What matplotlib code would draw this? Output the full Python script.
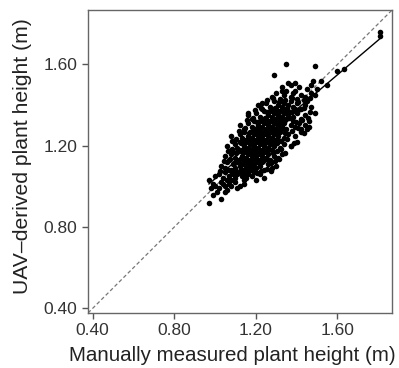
import numpy as np
import matplotlib
matplotlib.use("Agg")
import matplotlib.pyplot as plt

plt.rcParams['font.family'] = ['Liberation Sans', 'DejaVu Sans']

# manually measured height (x) and UAV-derived height (y)
manual_h = [
    0.97, 1.03, 0.99, 1.01, 1.05, 0.98,
    0.97, 1.00, 1.02, 1.04, 1.06, 1.08, 1.10, 1.12, 1.03, 1.07, 1.11, 0.99, 1.05, 1.14,
    1.00, 1.02, 1.04, 1.05, 1.07, 1.08, 1.09, 1.10, 1.12, 1.13, 1.15, 1.16, 1.18, 1.20, 1.22, 1.24, 1.06, 1.11, 1.14, 1.19,
    1.03, 1.05, 1.06, 1.08, 1.09, 1.10, 1.11, 1.12, 1.13, 1.14, 1.15, 1.16, 1.17, 1.18, 1.19, 1.20, 1.21, 1.22, 1.24, 1.26, 1.28, 1.30, 1.07, 1.13, 1.17, 1.23,
    1.05, 1.07, 1.08, 1.10, 1.11, 1.12, 1.13, 1.14, 1.15, 1.16, 1.17, 1.18, 1.19, 1.20, 1.21, 1.22, 1.23, 1.24, 1.25, 1.26, 1.27, 1.29, 1.31, 1.33, 1.09, 1.14, 1.18, 1.22, 1.26, 1.20,
    1.06, 1.08, 1.10, 1.11, 1.12, 1.13, 1.14, 1.15, 1.16, 1.17, 1.18, 1.19, 1.20, 1.21, 1.22, 1.23, 1.24, 1.25, 1.26, 1.27, 1.28, 1.29, 1.30, 1.32, 1.34, 1.37, 1.12, 1.16, 1.20, 1.24, 1.28, 1.18, 1.22, 1.26,
    1.08, 1.10, 1.12, 1.13, 1.14, 1.15, 1.16, 1.17, 1.18, 1.19, 1.20, 1.21, 1.22, 1.23, 1.24, 1.25, 1.26, 1.27, 1.28, 1.29, 1.30, 1.31, 1.32, 1.34, 1.36, 1.39, 1.42, 1.15, 1.19, 1.23, 1.27, 1.31, 1.21, 1.25,
    1.12, 1.14, 1.16, 1.18, 1.19, 1.20, 1.21, 1.22, 1.23, 1.24, 1.25, 1.26, 1.27, 1.28, 1.29, 1.30, 1.31, 1.32, 1.33, 1.34, 1.35, 1.37, 1.39, 1.41, 1.44, 1.46, 1.22, 1.26, 1.30, 1.34, 1.28, 1.38,
    1.16, 1.18, 1.20, 1.22, 1.24, 1.25, 1.26, 1.27, 1.28, 1.29, 1.30, 1.31, 1.32, 1.33, 1.34, 1.35, 1.36, 1.38, 1.40, 1.42, 1.44, 1.49, 1.28, 1.32, 1.36, 1.30, 1.34, 1.46,
    1.21, 1.23, 1.25, 1.27, 1.29, 1.30, 1.31, 1.32, 1.33, 1.34, 1.35, 1.36, 1.37, 1.38, 1.40, 1.42, 1.44, 1.47, 1.28, 1.33, 1.39, 1.45,
    1.28, 1.30, 1.32, 1.34, 1.35, 1.37, 1.38, 1.40, 1.42, 1.44, 1.47, 1.33, 1.39, 1.49,
    1.33, 1.36, 1.37, 1.39, 1.41, 1.45, 1.47, 1.48,
    1.29, 1.35, 1.49, 1.55, 1.60, 1.63, 1.81, 1.81, 1.52, 1.50, 1.23, 1.16, 1.45, 1.42, 1.40, 1.37,
    # in-between rows of the dense core
    1.025, 1.055, 1.085, 1.105, 1.125, 1.145, 1.165, 1.185, 1.205, 1.225, 1.255, 1.275,
    1.045, 1.075, 1.095, 1.115, 1.135, 1.155, 1.175, 1.195, 1.215, 1.235, 1.255, 1.275, 1.295, 1.315,
    1.065, 1.085, 1.105, 1.125, 1.145, 1.165, 1.185, 1.205, 1.225, 1.245, 1.265, 1.285, 1.305, 1.325, 1.345,
    1.085, 1.105, 1.125, 1.145, 1.165, 1.185, 1.205, 1.225, 1.245, 1.265, 1.285, 1.305, 1.325, 1.355, 1.385,
    1.115, 1.145, 1.165, 1.185, 1.205, 1.225, 1.245, 1.265, 1.285, 1.305, 1.325, 1.345, 1.375, 1.405, 1.435,
    1.155, 1.185, 1.205, 1.225, 1.245, 1.265, 1.285, 1.305, 1.325, 1.345, 1.365, 1.395, 1.425, 1.455,
    1.195, 1.225, 1.255, 1.275, 1.295, 1.315, 1.335, 1.355, 1.375, 1.405, 1.435, 1.465,
    1.255, 1.285, 1.315, 1.345, 1.375, 1.405, 1.435, 1.465,
]
uav_h = [
    0.92, 0.94, 0.96, 0.97, 0.97, 0.99,
    1.03, 1.00, 0.99, 1.01, 0.98, 1.00, 1.02, 1.00, 1.02, 1.01, 0.99, 1.01, 1.00, 1.01,
    1.05, 1.06, 1.04, 1.07, 1.05, 1.03, 1.06, 1.04, 1.07, 1.05, 1.04, 1.06, 1.05, 1.03, 1.06, 1.04, 1.03, 1.06, 1.03, 1.07,
    1.10, 1.09, 1.12, 1.08, 1.11, 1.09, 1.12, 1.10, 1.08, 1.11, 1.09, 1.12, 1.10, 1.08, 1.11, 1.09, 1.12, 1.10, 1.08, 1.11, 1.09, 1.10, 1.08, 1.12, 1.08, 1.12,
    1.15, 1.13, 1.16, 1.14, 1.17, 1.13, 1.15, 1.17, 1.14, 1.16, 1.13, 1.15, 1.17, 1.14, 1.16, 1.13, 1.15, 1.17, 1.14, 1.16, 1.13, 1.15, 1.14, 1.16, 1.17, 1.13, 1.17, 1.17, 1.13, 1.15,
    1.20, 1.18, 1.21, 1.19, 1.22, 1.18, 1.20, 1.22, 1.19, 1.21, 1.18, 1.20, 1.22, 1.19, 1.21, 1.18, 1.20, 1.22, 1.19, 1.21, 1.18, 1.20, 1.22, 1.19, 1.21, 1.20, 1.18, 1.18, 1.18, 1.22, 1.22, 1.22, 1.22, 1.18,
    1.25, 1.23, 1.26, 1.24, 1.27, 1.23, 1.25, 1.27, 1.24, 1.26, 1.23, 1.25, 1.27, 1.24, 1.26, 1.23, 1.25, 1.27, 1.24, 1.26, 1.23, 1.25, 1.27, 1.24, 1.26, 1.25, 1.28, 1.23, 1.23, 1.23, 1.27, 1.23, 1.27, 1.27,
    1.30, 1.28, 1.31, 1.29, 1.32, 1.28, 1.30, 1.32, 1.29, 1.31, 1.28, 1.30, 1.32, 1.29, 1.31, 1.28, 1.30, 1.32, 1.29, 1.31, 1.28, 1.30, 1.29, 1.31, 1.30, 1.29, 1.28, 1.28, 1.32, 1.28, 1.28, 1.32,
    1.35, 1.33, 1.36, 1.34, 1.37, 1.33, 1.35, 1.37, 1.34, 1.36, 1.33, 1.35, 1.37, 1.34, 1.36, 1.33, 1.35, 1.34, 1.36, 1.33, 1.35, 1.36, 1.33, 1.33, 1.37, 1.37, 1.37, 1.32,
    1.40, 1.38, 1.41, 1.39, 1.42, 1.38, 1.40, 1.42, 1.39, 1.41, 1.38, 1.40, 1.42, 1.39, 1.41, 1.38, 1.40, 1.39, 1.38, 1.38, 1.38, 1.42,
    1.44, 1.46, 1.43, 1.45, 1.47, 1.44, 1.46, 1.43, 1.45, 1.44, 1.46, 1.47, 1.47, 1.45,
    1.49, 1.51, 1.50, 1.51, 1.49, 1.48, 1.50, 1.52,
    1.55, 1.60, 1.59, 1.50, 1.57, 1.58, 1.76, 1.74, 1.52, 1.48, 1.41, 1.36, 1.28, 1.27, 1.22, 1.20,
    1.075, 1.085, 1.065, 1.075, 1.085, 1.065, 1.075, 1.085, 1.065, 1.075, 1.085, 1.075,
    1.125, 1.135, 1.115, 1.125, 1.135, 1.115, 1.125, 1.135, 1.115, 1.125, 1.135, 1.115, 1.125, 1.135,
    1.175, 1.185, 1.165, 1.175, 1.185, 1.165, 1.175, 1.185, 1.165, 1.175, 1.185, 1.165, 1.175, 1.185, 1.165,
    1.225, 1.235, 1.215, 1.225, 1.235, 1.215, 1.225, 1.235, 1.215, 1.225, 1.235, 1.215, 1.225, 1.235, 1.215,
    1.275, 1.285, 1.265, 1.275, 1.285, 1.265, 1.275, 1.285, 1.265, 1.275, 1.285, 1.265, 1.275, 1.285, 1.265,
    1.325, 1.335, 1.315, 1.325, 1.335, 1.315, 1.325, 1.335, 1.315, 1.325, 1.335, 1.315, 1.325, 1.335,
    1.375, 1.385, 1.365, 1.375, 1.385, 1.365, 1.375, 1.385, 1.365, 1.375, 1.385, 1.365,
    1.425, 1.435, 1.415, 1.425, 1.435, 1.415, 1.425, 1.435,
]

# fitted regression line (end points) and the 1:1 reference
fit_x = [0.97, 1.81]
fit_y = [1.012, 1.728]
lim = [0.377, 1.868]
ticks = [0.40, 0.80, 1.20, 1.60]

fig = plt.figure(figsize=(3.99, 3.68), dpi=100)
ax = fig.add_axes([0.2206, 0.1495, 0.762, 0.8233])

ax.plot(lim, lim, color='#777777', lw=0.9, ls=(0, (3, 2)), zorder=1)
ax.scatter(manual_h, uav_h, s=16, color='black', linewidths=0, zorder=2)
ax.plot(fit_x, fit_y, color='black', lw=1.0, zorder=3)

ax.set_xlim(lim)
ax.set_ylim(lim)
ax.set_xticks(ticks)
ax.set_yticks(ticks)
ax.set_xticklabels(['%.2f' % t for t in ticks])
ax.set_yticklabels(['%.2f' % t for t in ticks])
ax.tick_params(labelsize=12.5, colors='#555555', labelcolor='#333333', length=4, width=1)
for sp in ax.spines.values():
    sp.set_color('#666666')
    sp.set_linewidth(1)

ax.set_xlabel('Manually measured plant height (m)', fontsize=14.8, color='#222222')
ax.set_ylabel('UAV\u2013derived plant height (m)', fontsize=15.2, color='#222222')
ax.xaxis.set_label_coords(0.474, -0.11)
ax.yaxis.set_label_coords(-0.185, 0.518)

fig.savefig('out.png', dpi=100)
